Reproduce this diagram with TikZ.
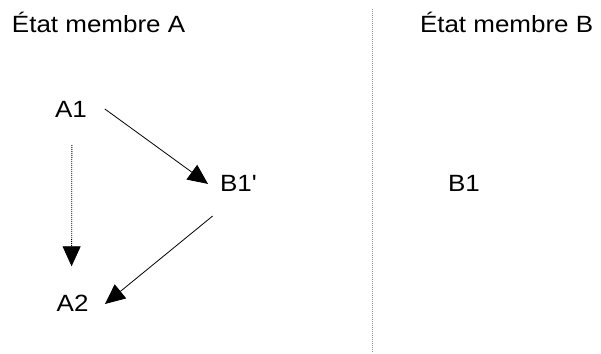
\documentclass[tikz,border=0pt]{standalone}
\usepackage{fontspec}
\setmainfont{Liberation Sans}
\newfontfamily\libsans{Liberation Sans}
\usetikzlibrary{arrows.meta,calc}
\tikzset{
  lbl/.style={anchor=base west, inner sep=0pt, outer sep=0pt, font=\libsans\fontsize{23.5}{26}\selectfont},
  conn/.style={draw=black, line width=0.8pt, -{Triangle[length=20pt,width=18pt]}},
  dotconn/.style={conn, dash pattern=on 1pt off 1pt},
  sep/.style={draw=black!45, line width=0.9pt, dash pattern=on 1pt off 1pt},
}
\newcommand{\sx}[1]{\scalebox{1.105}[1]{#1}}
\begin{document}
\begin{tikzpicture}[x=1pt,y=-1pt]
\useasboundingbox (0,0) rectangle (601,353);
\node[lbl] (tA) at (12,33) {\sx{État membre A}};
\node[lbl] (tB) at (420,33) {\sx{État membre B}};
\node[lbl] (A1) at (55,117) {\sx{A1}};
\node[lbl] (A2) at (56.7,311.7) {\sx{A2}};
\node[lbl] (B1p) at (220,191) {\sx{B1'}};
\node[lbl] (B1) at (448,191) {\sx{B1}};
\coordinate (sTop) at (372.7,9);
\coordinate (sBot) at (372.7,353);
\draw[sep] (sTop) -- (sBot);
\draw[conn] ([xshift=18pt]A1.east) -- ([xshift=-12pt,yshift=-1pt]B1p.west);
\draw[dotconn] ([xshift=1pt,yshift=-28pt]A1.south) -- ([xshift=-1pt,yshift=29pt]A2.north);
\draw[conn] ([xshift=-25.7pt,yshift=-25pt]B1p.south) -- ([xshift=16.5pt,yshift=-0.5pt]A2.east);
\end{tikzpicture}
\end{document}
